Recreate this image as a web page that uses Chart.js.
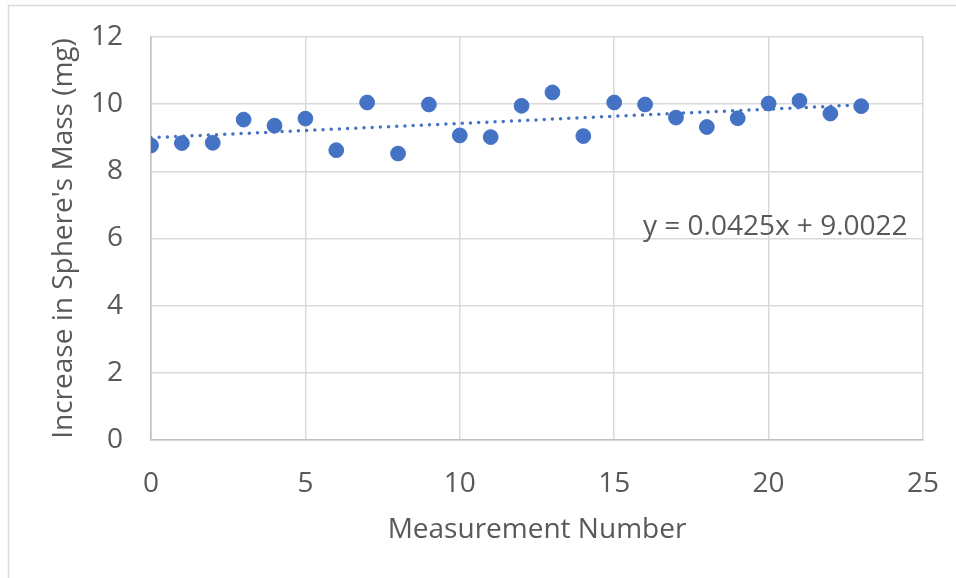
<!DOCTYPE html>
<html>
<head>
<meta charset="utf-8">
<script src="https://cdn.jsdelivr.net/npm/chart.js@4"></script>
<style>
  html, body { margin: 0; padding: 0; background: #fff; }
  canvas { display: block; }
</style>
</head>
<body>
<canvas id="massChart" width="956" height="578"></canvas>
<script>
// Measurement numbers and mass increase (mg)
const measurements = [0, 1, 2, 3, 4, 5, 6, 7, 8, 9, 10, 11, 12, 13, 14, 15, 16, 17, 18, 19, 20, 21, 22, 23];
const massIncrease = [8.77, 8.84, 8.85, 9.54, 9.36, 9.57, 8.63, 10.05, 8.53, 9.99, 9.07, 9.02, 9.95, 10.35, 9.05, 10.05, 9.99, 9.60, 9.32, 9.58, 10.02, 10.10, 9.72, 9.94];

// Linear trendline fitted in the spreadsheet
const trendSlope = 0.0425;
const trendIntercept = 9.0022;
const trendLabel = "y = 0.0425x + 9.0022";

const xTicks = [0, 5, 10, 15, 20, 25];
const yTicks = [0, 2, 4, 6, 8, 10, 12];

const textColor = "#595959";
const gridColor = "#d9d9d9";
const markerColor = "#4472c4";
const fontFamily = "'Open Sans', sans-serif";
const fontSize = 28;

const points = measurements.map((m, i) => ({ x: m, y: massIncrease[i] }));
const xFirst = measurements[0];
const xLast = measurements[measurements.length - 1];
const trendPoints = [
    { x: xFirst, y: trendIntercept + trendSlope * xFirst },
    { x: xLast, y: trendIntercept + trendSlope * xLast }
];

// Light frame around the chart object and the equation text
const framePlugin = {
    id: "frame",
    beforeDraw(chart) {
        const ctx = chart.ctx;
        ctx.save();
        ctx.strokeStyle = "#d9d9d9";
        ctx.lineWidth = 1.5;
        ctx.beginPath();
        ctx.moveTo(8.5, chart.height);
        ctx.lineTo(8.5, 5.5);
        ctx.lineTo(chart.width, 5.5);
        ctx.stroke();
        ctx.restore();
    },
    afterDatasetsDraw(chart) {
        const ctx = chart.ctx;
        const xs = chart.scales.x;
        const ys = chart.scales.y;
        ctx.save();
        ctx.fillStyle = textColor;
        ctx.font = fontSize + "px " + fontFamily;
        ctx.textAlign = "right";
        ctx.textBaseline = "middle";
        ctx.fillText(trendLabel, xs.getPixelForValue(24.5), ys.getPixelForValue(6.35));
        ctx.restore();
    }
};

new Chart(document.getElementById("massChart"), {
    type: "scatter",
    data: {
        datasets: [
            {
                type: "line",
                label: "Linear trend",
                data: trendPoints,
                borderColor: markerColor,
                borderWidth: 3.5,
                borderDash: [0, 8.2],
                borderCapStyle: "round",
                pointRadius: 0,
                fill: false
            },
            {
                label: "Increase in mass",
                data: points,
                backgroundColor: markerColor,
                borderColor: markerColor,
                pointRadius: 7.4,
                pointHoverRadius: 7.4
            }
        ]
    },
    options: {
        responsive: false,
        animation: false,
        layout: { padding: { top: 37, right: 33, left: 0, bottom: 0 } },
        plugins: {
            legend: { display: false },
            tooltip: { enabled: false }
        },
        scales: {
            x: {
                type: "linear",
                min: 0,
                max: 25,
                afterBuildTicks: (scale) => { scale.ticks = xTicks.map(v => ({ value: v })); },
                afterFit: (scale) => {
                    scale.height = 138;
                    scale.paddingLeft = 0;
                    scale.paddingRight = 0;
                },
                grid: { color: gridColor, lineWidth: 1.5, drawTicks: false },
                border: { color: "#bfbfbf", width: 1.5 },
                ticks: {
                    color: textColor,
                    padding: 27,
                    font: { family: fontFamily, size: fontSize }
                },
                title: {
                    display: true,
                    text: "Measurement Number",
                    color: textColor,
                    padding: { top: 0, bottom: 31 },
                    font: { family: fontFamily, size: fontSize }
                }
            },
            y: {
                type: "linear",
                min: 0,
                max: 12,
                afterBuildTicks: (scale) => { scale.ticks = yTicks.map(v => ({ value: v })); },
                afterFit: (scale) => {
                    scale.width = 151;
                    scale.paddingTop = 0;
                    scale.paddingBottom = 0;
                },
                grid: { color: gridColor, lineWidth: 1.5, drawTicks: false },
                border: { color: "#bfbfbf", width: 1.5 },
                ticks: {
                    color: textColor,
                    padding: 28,
                    font: { family: fontFamily, size: fontSize }
                },
                title: {
                    display: true,
                    text: "Increase in Sphere's Mass (mg)",
                    color: textColor,
                    padding: { top: 47, bottom: 0 },
                    font: { family: fontFamily, size: fontSize }
                }
            }
        }
    },
    plugins: [framePlugin]
});
</script>
</body>
</html>
